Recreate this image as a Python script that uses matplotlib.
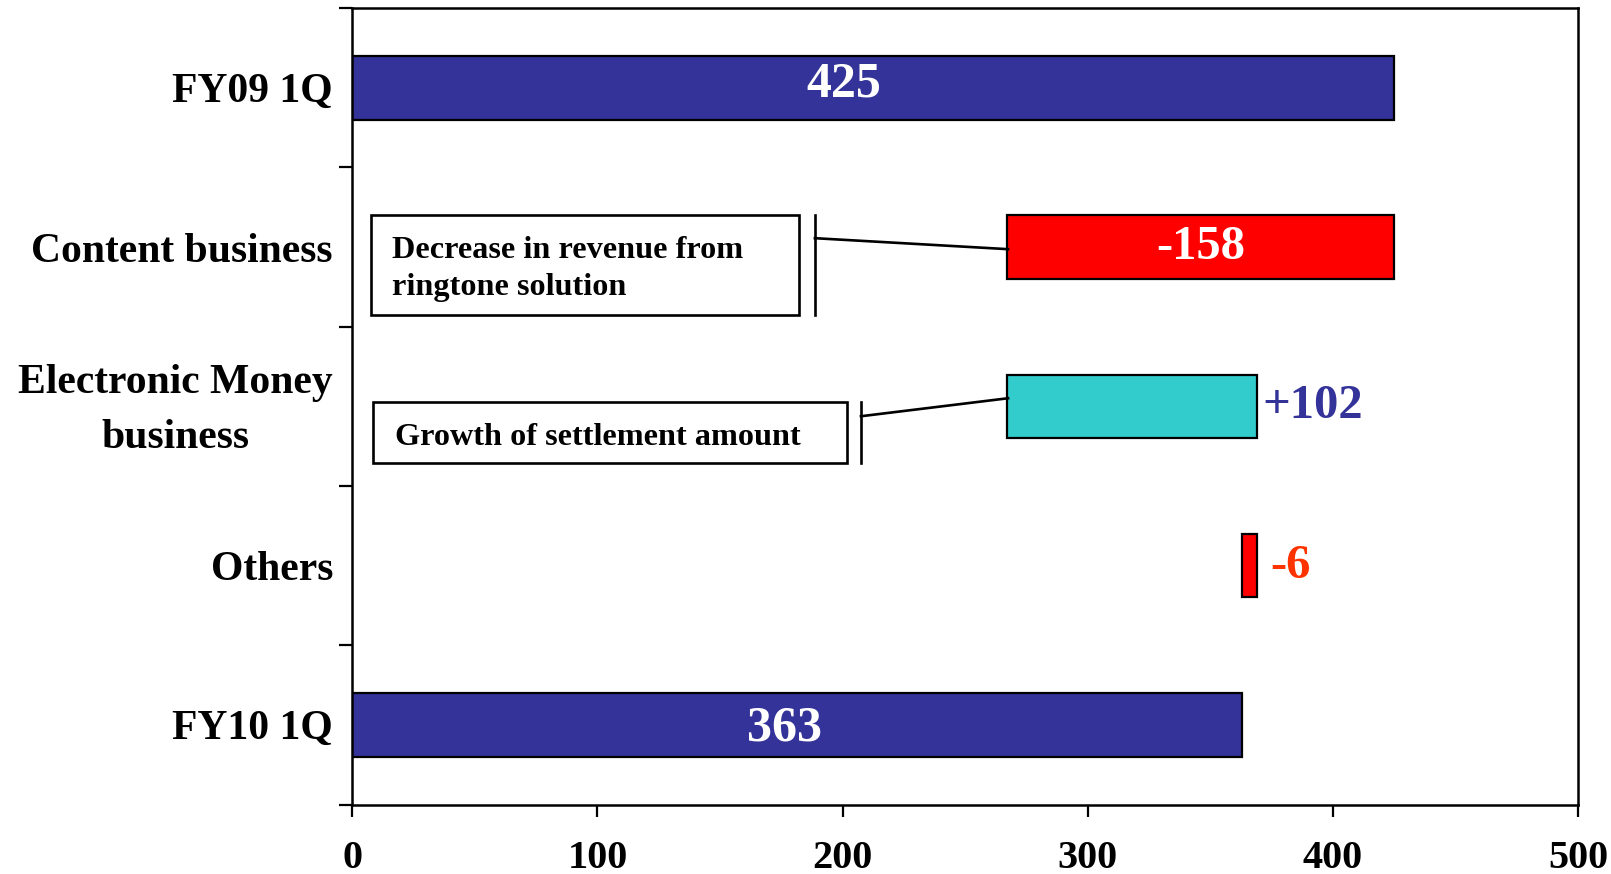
import matplotlib
matplotlib.use("Agg")
import matplotlib.pyplot as plt
from matplotlib.patches import Rectangle

plt.rcParams['font.family'] = ['Liberation Serif', 'DejaVu Serif']
plt.rcParams['font.weight'] = 'bold'

# Waterfall data (revenue bridge, FY09 1Q -> FY10 1Q)
categories = ["FY09 1Q", "Content business", "Electronic Money\nbusiness", "Others", "FY10 1Q"]
start_total = 425
changes = [-158, 102, -6]
end_total = 363
change_labels = ["-158", "+102", "-6"]
x_ticks = [0, 100, 200, 300, 400, 500]

notes = ["Decrease in revenue from\nringtone solution", "Growth of settlement amount"]

BLUE = "#333399"
RED = "#FF0000"
CYAN = "#33CCCC"
ORANGE = "#FF3300"

fig = plt.figure(figsize=(16.11, 8.74), dpi=100)
ax = fig.add_axes([0.2187, 0.0795, 0.7608, 0.9111])

bar_h = 0.4
edge = dict(edgecolor="black", linewidth=1.6)

# totals
ax.barh(0, start_total, height=bar_h, color=BLUE, **edge)
ax.barh(4, end_total, height=bar_h, color=BLUE, **edge)

# change bars
level = start_total
change_colors = [RED, CYAN, RED]
bar_edges = []
for i, (d, c) in enumerate(zip(changes, change_colors)):
    new = level + d
    left = min(level, new)
    ax.barh(i + 1, abs(d), left=left, height=bar_h, color=c, **edge)
    bar_edges.append((left, max(level, new)))
    level = new

# value labels
ax.text(start_total / 2 - 12, -0.02, str(start_total), ha="center", va="center",
        color="white", fontsize=36, fontweight="bold")
ax.text(end_total / 2 - 5, 4.02, str(end_total), ha="center", va="center",
        color="white", fontsize=36, fontweight="bold")
l0, r0 = bar_edges[0]
ax.text((l0 + r0) / 2, 1, change_labels[0], ha="center", va="center",
        color="white", fontsize=35, fontweight="bold")
ax.annotate(change_labels[1], xy=(bar_edges[1][1], 2), xytext=(4, 0),
            textcoords="offset points", ha="left", va="center",
            color=BLUE, fontsize=35, fontweight="bold")
ax.annotate(change_labels[2], xy=(bar_edges[2][1], 3), xytext=(10, 0),
            textcoords="offset points", ha="left", va="center",
            color=ORANGE, fontsize=35, fontweight="bold")

# callout boxes with bracket connectors
def callout(x0, x1, y0, y1, tx, ty, text, bx, cy0, cy1):
    ax.add_patch(Rectangle((x0, y0), x1 - x0, y1 - y0, fill=False,
                           edgecolor="black", linewidth=1.9, zorder=3))
    ax.text(tx, ty, text, ha="left", va="center", fontsize=23.2,
            fontweight="bold", linespacing=1.37, zorder=4)
    ax.plot([bx, bx], [y0, y1], color="black", linewidth=1.9)
    ax.plot([bx, 267.5], [cy0, cy1], color="black", linewidth=1.9)

callout(7.8, 182.2, 0.798, 1.426, 16.1, 1.14, notes[0], 188.7, 0.944, 1.013)
callout(8.4, 201.8, 1.973, 2.356, 17.4, 2.195, notes[1], 207.5, 2.062, 1.949)

# axes styling
ax.set_xlim(0, 500)
ax.set_ylim(4.5, -0.5)
ax.set_xticks(x_ticks)
ax.set_xticklabels([str(t) for t in x_ticks], fontsize=29, fontweight="bold")
ax.tick_params(axis="x", direction="out", length=8.6, width=1.6, pad=17)

# category labels, drawn beside the y axis
ax.set_yticks([])
ax.set_yticks([i - 0.5 for i in range(len(categories) + 1)], minor=True)
ax.tick_params(axis="y", which="minor", direction="out", length=9.4, width=1.6)
ytrans = ax.get_yaxis_transform()
for i, name in enumerate(categories):
    multi = "\n" in name
    ax.annotate(name, xy=(0, i), xycoords=ytrans,
                xytext=(-14, -3 if multi else 0), textcoords="offset points",
                ha="right", va="center" if multi else "center_baseline",
                multialignment="center", linespacing=1.6,
                fontsize=30, fontweight="bold", annotation_clip=False)

for s in ax.spines.values():
    s.set_linewidth(1.8)
    s.set_color("black")

fig.savefig("out.png", dpi=100, facecolor="white")
